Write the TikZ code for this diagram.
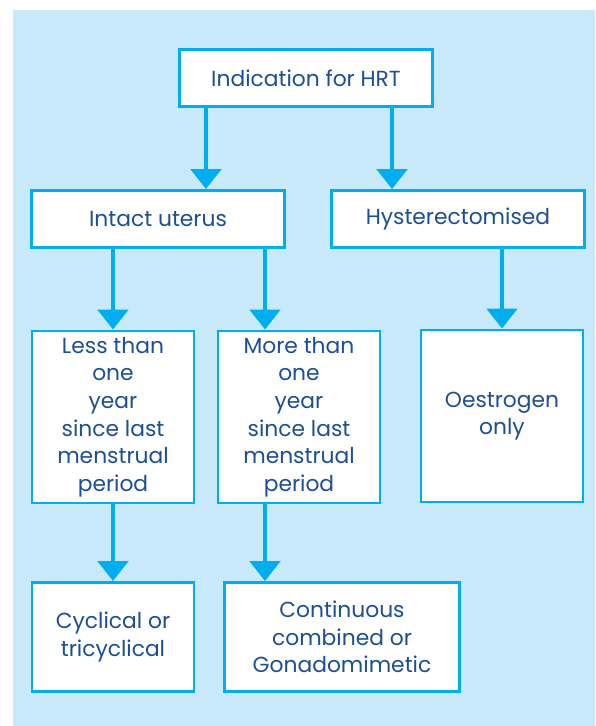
\documentclass[tikz,border=0pt]{standalone}
\usepackage{fontspec}
\setmainfont{Poppins}
\usepackage{tikz}
\usetikzlibrary{arrows.meta}
\definecolor{bgblue}{HTML}{C7E9F9}
\definecolor{lineblue}{HTML}{00AEEF}
\definecolor{textblue}{HTML}{1D4F91}
\tikzstyle{widebox} = [rectangle, minimum width=6.325cm, minimum height=1.425cm, text centered, draw=lineblue, line width=2pt, fill=white, text=textblue, font=\fontsize{15.5}{19.6}\selectfont]
\tikzstyle{tallbox} = [widebox, minimum width=4.05cm, minimum height=4.3cm, align=center]
\tikzstyle{endbox} = [widebox, minimum width=4.05cm, minimum height=2.725cm, align=center]
\tikzstyle{arrow} = [lineblue, line width=3.5pt, -{Triangle[width=0.75cm,length=0.5cm]}]

\begin{document}
\begin{tikzpicture}[x=0.025cm, y=-0.025cm]
        \useasboundingbox (0,0) rectangle (595,726);
        \fill [bgblue] (13,10) rectangle (595,726);
        \node (ind) [widebox] at (306,78) {Indication for HRT};
        \node (uter) [widebox] at (158,219) {Intact uterus};
        \node (hyst) [widebox] at (458,219) {Hysterectomised};
        \node (less) [tallbox] at (113,417) {Less than\\one\\year\\since last\\menstrual\\period};
        \node (more) [tallbox] at (299,417) {More than\\one\\year\\since last\\menstrual\\period};
        \node (oest) [tallbox] at (502,416) {Oestrogen\\only};
        \node (cyc) [endbox] at (113,637) {Cyclical or\\tricyclical};
        \node (cont) [endbox, minimum width=5.875cm] at (342,637) {Continuous\\combined or\\Gonadomimetic};
        \coordinate (a1) at ([xshift=-2.5cm]ind.south);
        \coordinate (a2) at ([xshift=2.15cm]ind.south);
        \coordinate (a3) at ([xshift=-1.125cm]uter.south);
        \coordinate (a4) at ([xshift=2.675cm]uter.south);
        \coordinate (a5) at ([xshift=1.1cm]hyst.south);
        \coordinate (a6) at ([xshift=-0.85cm]more.south);
        \draw [arrow] (a1) -- (a1 |- uter.north);
        \draw [arrow] (a2) -- (a2 |- hyst.north);
        \draw [arrow] (a3) -- (a3 |- less.north);
        \draw [arrow] (a4) -- (a4 |- more.north);
        \draw [arrow] (a5) -- (a5 |- oest.north);
        \draw [arrow] (less) -- (cyc);
        \draw [arrow] (a6) -- (a6 |- cont.north);
\end{tikzpicture}
\end{document}
